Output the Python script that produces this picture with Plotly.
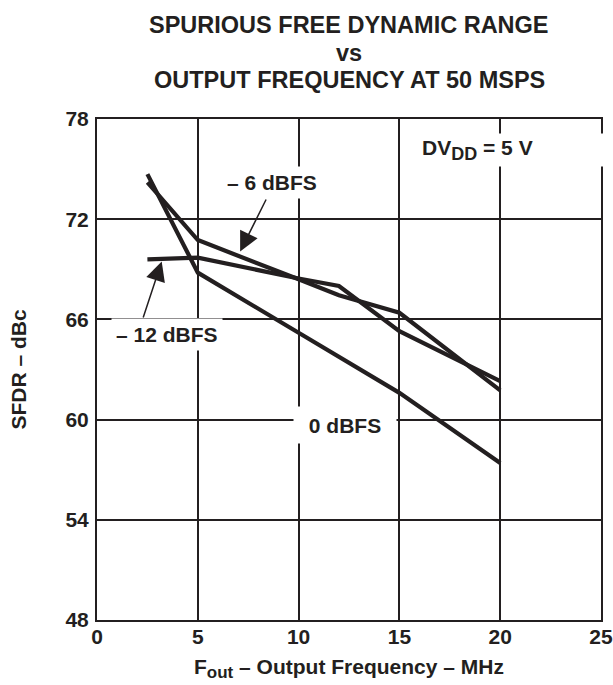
import plotly.graph_objects as go

# ---- data ----
freq_0dbfs = [2.5, 5, 10, 15, 20]
sfdr_0dbfs = [74.7, 68.8, 65.2, 61.6, 57.4]

freq_6dbfs = [2.5, 5, 10, 12, 15, 20]
sfdr_6dbfs = [74.2, 70.75, 68.4, 67.45, 66.4, 61.75]

freq_12dbfs = [2.5, 5, 10, 12, 15, 20]
sfdr_12dbfs = [69.6, 69.7, 68.45, 68.0, 65.3, 62.3]

x_ticks = [0, 5, 10, 15, 20, 25]
y_ticks = [48, 54, 60, 66, 72, 78]

title_lines = ["SPURIOUS FREE DYNAMIC RANGE", "vs", "OUTPUT FREQUENCY AT 50 MSPS"]

INK = "#231f20"
FONT = "Liberation Sans, Arial, Helvetica, sans-serif"
W, H = 613, 685
L, R, T, B = 97, 12, 119, 65

fig = go.Figure()
for xs, ys, name in [(freq_0dbfs, sfdr_0dbfs, "0 dBFS"),
                     (freq_6dbfs, sfdr_6dbfs, "– 6 dBFS"),
                     (freq_12dbfs, sfdr_12dbfs, "– 12 dBFS")]:
    fig.add_trace(go.Scatter(x=xs, y=ys, mode="lines", name=name,
                             line=dict(color=INK, width=4.2),
                             hoverinfo="x+y+name"))

label_font = dict(family=FONT, size=21, color=INK, weight="bold")
title_font = dict(family=FONT, size=23.5, color=INK, weight="bold")

plot_h = H - T - B
plot_w = W - L - R


def py(px):
    """page pixel y -> paper y"""
    return (H - B - px) / plot_h


def px_(px):
    return (px - L) / plot_w


annotations = [
    # curve labels
    dict(x=8.68, y=74.2, text="– 6 dBFS", showarrow=False, font=label_font,
         bgcolor="white", borderpad=4),
    dict(x=3.47, y=65.08, text="– 12 dBFS", showarrow=False, font=label_font,
         bgcolor="white", borderpad=4),
    dict(x=12.3, y=59.7, text="0 dBFS", showarrow=False, font=label_font,
         bgcolor="white", width=96, height=30, borderpad=3),
    dict(x=16.0, y=76.15,
         text="DV<sub><span style=\"font-size:18px\">DD</span></sub> = 5 V",
         showarrow=False, font=label_font, bgcolor="white", xanchor="left",
         align="left", width=190, height=30, borderpad=1),
    # arrows
    dict(x=7.1, y=70.07, text="", showarrow=True, ax=26.7, ay=-53.4,
         arrowhead=2, arrowsize=2.6, arrowwidth=1.5, arrowcolor=INK),
    dict(x=3.21, y=69.47, text="", showarrow=True, ax=-19, ay=57.6,
         arrowhead=2, arrowsize=2.6, arrowwidth=1.5, arrowcolor=INK),
    # axis titles
    dict(xref="paper", yref="paper", x=px_(18), y=0.5,
         text="SFDR – dBc", textangle=-90, showarrow=False,
         font=label_font, xanchor="center", yanchor="middle"),
    dict(xref="paper", yref="paper", x=0.5, y=py(668),
         text="F<sub><span style=\"font-size:17px\">out</span></sub> – Output Frequency – MHz",
         showarrow=False, font=label_font, xanchor="center", yanchor="middle"),
]
# chart title, one line per annotation to match line spacing
for txt, yc in zip(title_lines, [25, 53, 80]):
    annotations.append(dict(xref="paper", yref="paper", x=0.5, y=py(yc),
                            text=txt, showarrow=False, font=title_font,
                            xanchor="center", yanchor="middle"))

fig.update_layout(
    width=W, height=H,
    margin=dict(l=L, r=R, t=T, b=B, autoexpand=False),
    paper_bgcolor="white", plot_bgcolor="white",
    showlegend=False,
    font=dict(family=FONT, size=21, color=INK, weight="bold"),
    xaxis=dict(range=[0, 25], tickvals=x_ticks, ticktext=[str(v) for v in x_ticks],
               showgrid=True, gridcolor=INK, gridwidth=2,
               showline=True, linecolor=INK, linewidth=2, mirror=True,
               zeroline=False, ticks="", ticklabelstandoff=-3, automargin=False,
               tickfont=dict(family=FONT, size=21, color=INK, weight="bold")),
    yaxis=dict(range=[48, 78], tickvals=y_ticks, ticktext=[str(v) for v in y_ticks],
               showgrid=True, gridcolor=INK, gridwidth=2,
               showline=True, linecolor=INK, linewidth=2, mirror=True,
               zeroline=False, ticks="", ticklabelstandoff=2, automargin=False,
               tickfont=dict(family=FONT, size=21, color=INK, weight="bold")),
    annotations=annotations,
)

fig.write_html("out.html", config={"displayModeBar": False},
               post_script="document.body.style.margin='0';document.body.style.padding='0';")
